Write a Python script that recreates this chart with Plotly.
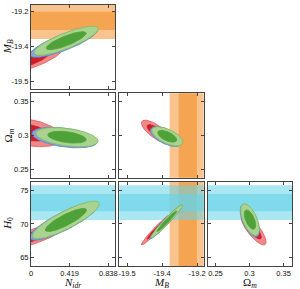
import numpy as np
import plotly.graph_objects as go

# ---------------- data ----------------
axis_range = {"N": [0.0, 0.914], "M": [-19.533, -19.172], "Om": [0.2385, 0.3625], "H0": [63.69, 76.35]}
tick_vals = {"N": [0, 0.419, 0.838], "M": [-19.5, -19.35, -19.2], "Om": [0.25, 0.30, 0.35], "H0": [65, 70, 75]}
tick_text = {"N": ["0", "0.419", "0.838"], "M": ["-19.5", "-19.4", "-19.2"],
             "Om": ["0.25", "0.3", "0.35"], "H0": ["65", "70", "75"]}
axis_title = {"N": "<i>N</i><sub><i>idr</i></sub>", "M": "<i>M</i><sub><i>B</i></sub>",
              "Om": "Ω<sub><i>m</i></sub>", "H0": "<i>H</i><sub>0</sub>"}

# panels of the triangle: (x parameter, y parameter, row, col)
panel_x = ["N", "N", "M", "N", "M", "Om"]
panel_y = ["M", "Om", "Om", "H0", "H0", "H0"]
panel_row = [1, 2, 2, 3, 3, 3]
panel_col = [1, 1, 2, 1, 2, 3]

# 2D posterior summaries per panel: [mean_x, mean_y, sigma_x, sigma_y, correlation]
red_post = [
    [-0.05, -19.4125, 0.160, 0.0258, 0.80],
    [-0.05, 0.3056, 0.160, 0.0088, -0.40],
    [-19.375, 0.3060, 0.026, 0.0070, -0.75],
    [-0.05, 67.82, 0.160, 0.81, 0.80],
    [-19.375, 69.15, 0.026, 0.94, 0.97],
    [0.3060, 69.15, 0.0075, 0.94, -0.80],
]
blue_post = [
    [0.355, -19.332, 0.150, 0.0262, 0.82],
    [0.365, 0.2975, 0.145, 0.0062, -0.40],
    [-19.333, 0.2990, 0.0275, 0.0060, -0.60],
    [0.355, 70.40, 0.152, 1.16, 0.85],
    [-19.333, 70.30, 0.0285, 1.04, 0.97],
    [0.3005, 70.50, 0.0058, 1.00, -0.60],
]
green_post = [
    [0.381, -19.325, 0.143, 0.0256, 0.82],
    [0.390, 0.2980, 0.138, 0.0058, -0.40],
    [-19.328, 0.2993, 0.027, 0.0058, -0.60],
    [0.378, 70.60, 0.148, 1.15, 0.85],
    [-19.330, 70.40, 0.028, 1.02, 0.97],
    [0.3007, 70.65, 0.0056, 0.97, -0.58],
]

# external Gaussian priors (mean, sigma)
MB_prior = [-19.24, 0.039]
H0_prior = [73.2, 1.3]

levels = [0.95, 0.68]

series = [
    ("red", red_post, ["#f08a8a", "#cf1d27"], "#e05858"),
    ("blue", blue_post, ["#86a3e0", "#2d5cb5"], "#5f82d2"),
    ("green", green_post, ["#a9d38f", "#4fa23a"], "#7cbc5c"),
]

# ---------------- layout geometry ----------------
W, H = 300, 289
ML, MR, MT, MB = 31, 8, 5, 23
pw = W - ML - MR
ph = H - MT - MB
gap = 4 / pw
size = (1 - 2 * gap) / 3
col_dom = {c: [(c - 1) * (size + gap), (c - 1) * (size + gap) + size] for c in (1, 2, 3)}
row_dom = {r: [(3 - r) * (size + gap), (3 - r) * (size + gap) + size] for r in (1, 2, 3)}


def ellipse(p, prob, n=160):
    mx, my, sx, sy, rho = p
    r = np.sqrt(-2 * np.log(1 - prob))
    t = np.linspace(0, 2 * np.pi, n)
    cov = np.array([[sx * sx, rho * sx * sy], [rho * sx * sy, sy * sy]])
    L = np.linalg.cholesky(cov)
    pts = L @ np.vstack([r * np.cos(t), r * np.sin(t)])
    return mx + pts[0], my + pts[1]


fig = go.Figure()
for k in range(6):
    xa = "x" if k == 0 else f"x{k+1}"
    ya = "y" if k == 0 else f"y{k+1}"
    for name, post, cols, edge in series:
        for lev, col in zip(levels, cols):
            ex, ey = ellipse(post[k], lev)
            fig.add_trace(go.Scatter(x=ex, y=ey, mode="lines", fill="toself", fillcolor=col,
                                     line=dict(color=edge if lev == 0.95 else col, width=0.8),
                                     xaxis=xa, yaxis=ya, showlegend=False, hoverinfo="skip"))

shapes = []
for k in range(6):
    xr = "x" if k == 0 else f"x{k+1}"
    yr = "y" if k == 0 else f"y{k+1}"
    for par, vertical in ((panel_x[k], True), (panel_y[k], False)):
        if par == "M":
            m, s = MB_prior
            rgb = "243,146,45"
        elif par == "H0":
            m, s = H0_prior
            rgb = "100,212,232"
        else:
            continue
        for nsig, alpha in ((2, 0.55), (1, 0.62)):
            lo, hi = m - nsig * s, m + nsig * s
            if vertical:
                shapes.append(dict(type="rect", xref=xr, yref=yr + " domain", x0=lo, x1=hi, y0=0, y1=1,
                                   fillcolor=f"rgba({rgb},{alpha})", line=dict(width=0), layer="below"))
            else:
                shapes.append(dict(type="rect", xref=xr + " domain", yref=yr, x0=0, x1=1, y0=lo, y1=hi,
                                   fillcolor=f"rgba({rgb},{alpha})", line=dict(width=0), layer="below"))

layout = dict(width=W, height=H, margin=dict(l=ML, r=MR, t=MT, b=MB),
              paper_bgcolor="white", plot_bgcolor="white", showlegend=False, shapes=shapes)
tickfont = dict(family="Liberation Sans", size=7.5, color="#111")
for k in range(6):
    sx = "xaxis" if k == 0 else f"xaxis{k+1}"
    sy = "yaxis" if k == 0 else f"yaxis{k+1}"
    xa_anchor = "y" if k == 0 else f"y{k+1}"
    ya_anchor = "x" if k == 0 else f"x{k+1}"
    px, py = panel_x[k], panel_y[k]
    common = dict(showline=True, mirror="allticks", linecolor="#444", linewidth=1, ticks="inside",
                  ticklen=3, tickcolor="#444", tickwidth=1, showgrid=False, zeroline=False,
                  tickfont=tickfont, tickmode="array", fixedrange=True)
    layout[sx] = dict(domain=col_dom[panel_col[k]], range=axis_range[px], anchor=xa_anchor,
                      tickvals=tick_vals[px], ticktext=tick_text[px],
                      showticklabels=panel_row[k] == 3, **common)
    layout[sy] = dict(domain=row_dom[panel_row[k]], range=axis_range[py], anchor=ya_anchor,
                      tickvals=tick_vals[py], ticktext=tick_text[py],
                      showticklabels=panel_col[k] == 1, **common)
fig.update_layout(**layout)

ann = []
titlefont = dict(family="Liberation Serif", size=11, color="#111")
for r, par in ((1, "M"), (2, "Om"), (3, "H0")):
    ann.append(dict(text=axis_title[par], xref="paper", yref="paper", x=(8 - ML) / pw,
                    y=sum(row_dom[r]) / 2, textangle=-90, showarrow=False, font=titlefont,
                    xanchor="center", yanchor="middle"))
for c, par in ((1, "N"), (2, "M"), (3, "Om")):
    ann.append(dict(text=axis_title[par], xref="paper", yref="paper", x=sum(col_dom[c]) / 2,
                    y=-16.5 / ph, showarrow=False, font=titlefont,
                    xanchor="center", yanchor="middle"))
fig.update_layout(annotations=ann)

fig.write_html("out.html", config={"displayModeBar": False},
               post_script="document.body.style.margin='0';")
